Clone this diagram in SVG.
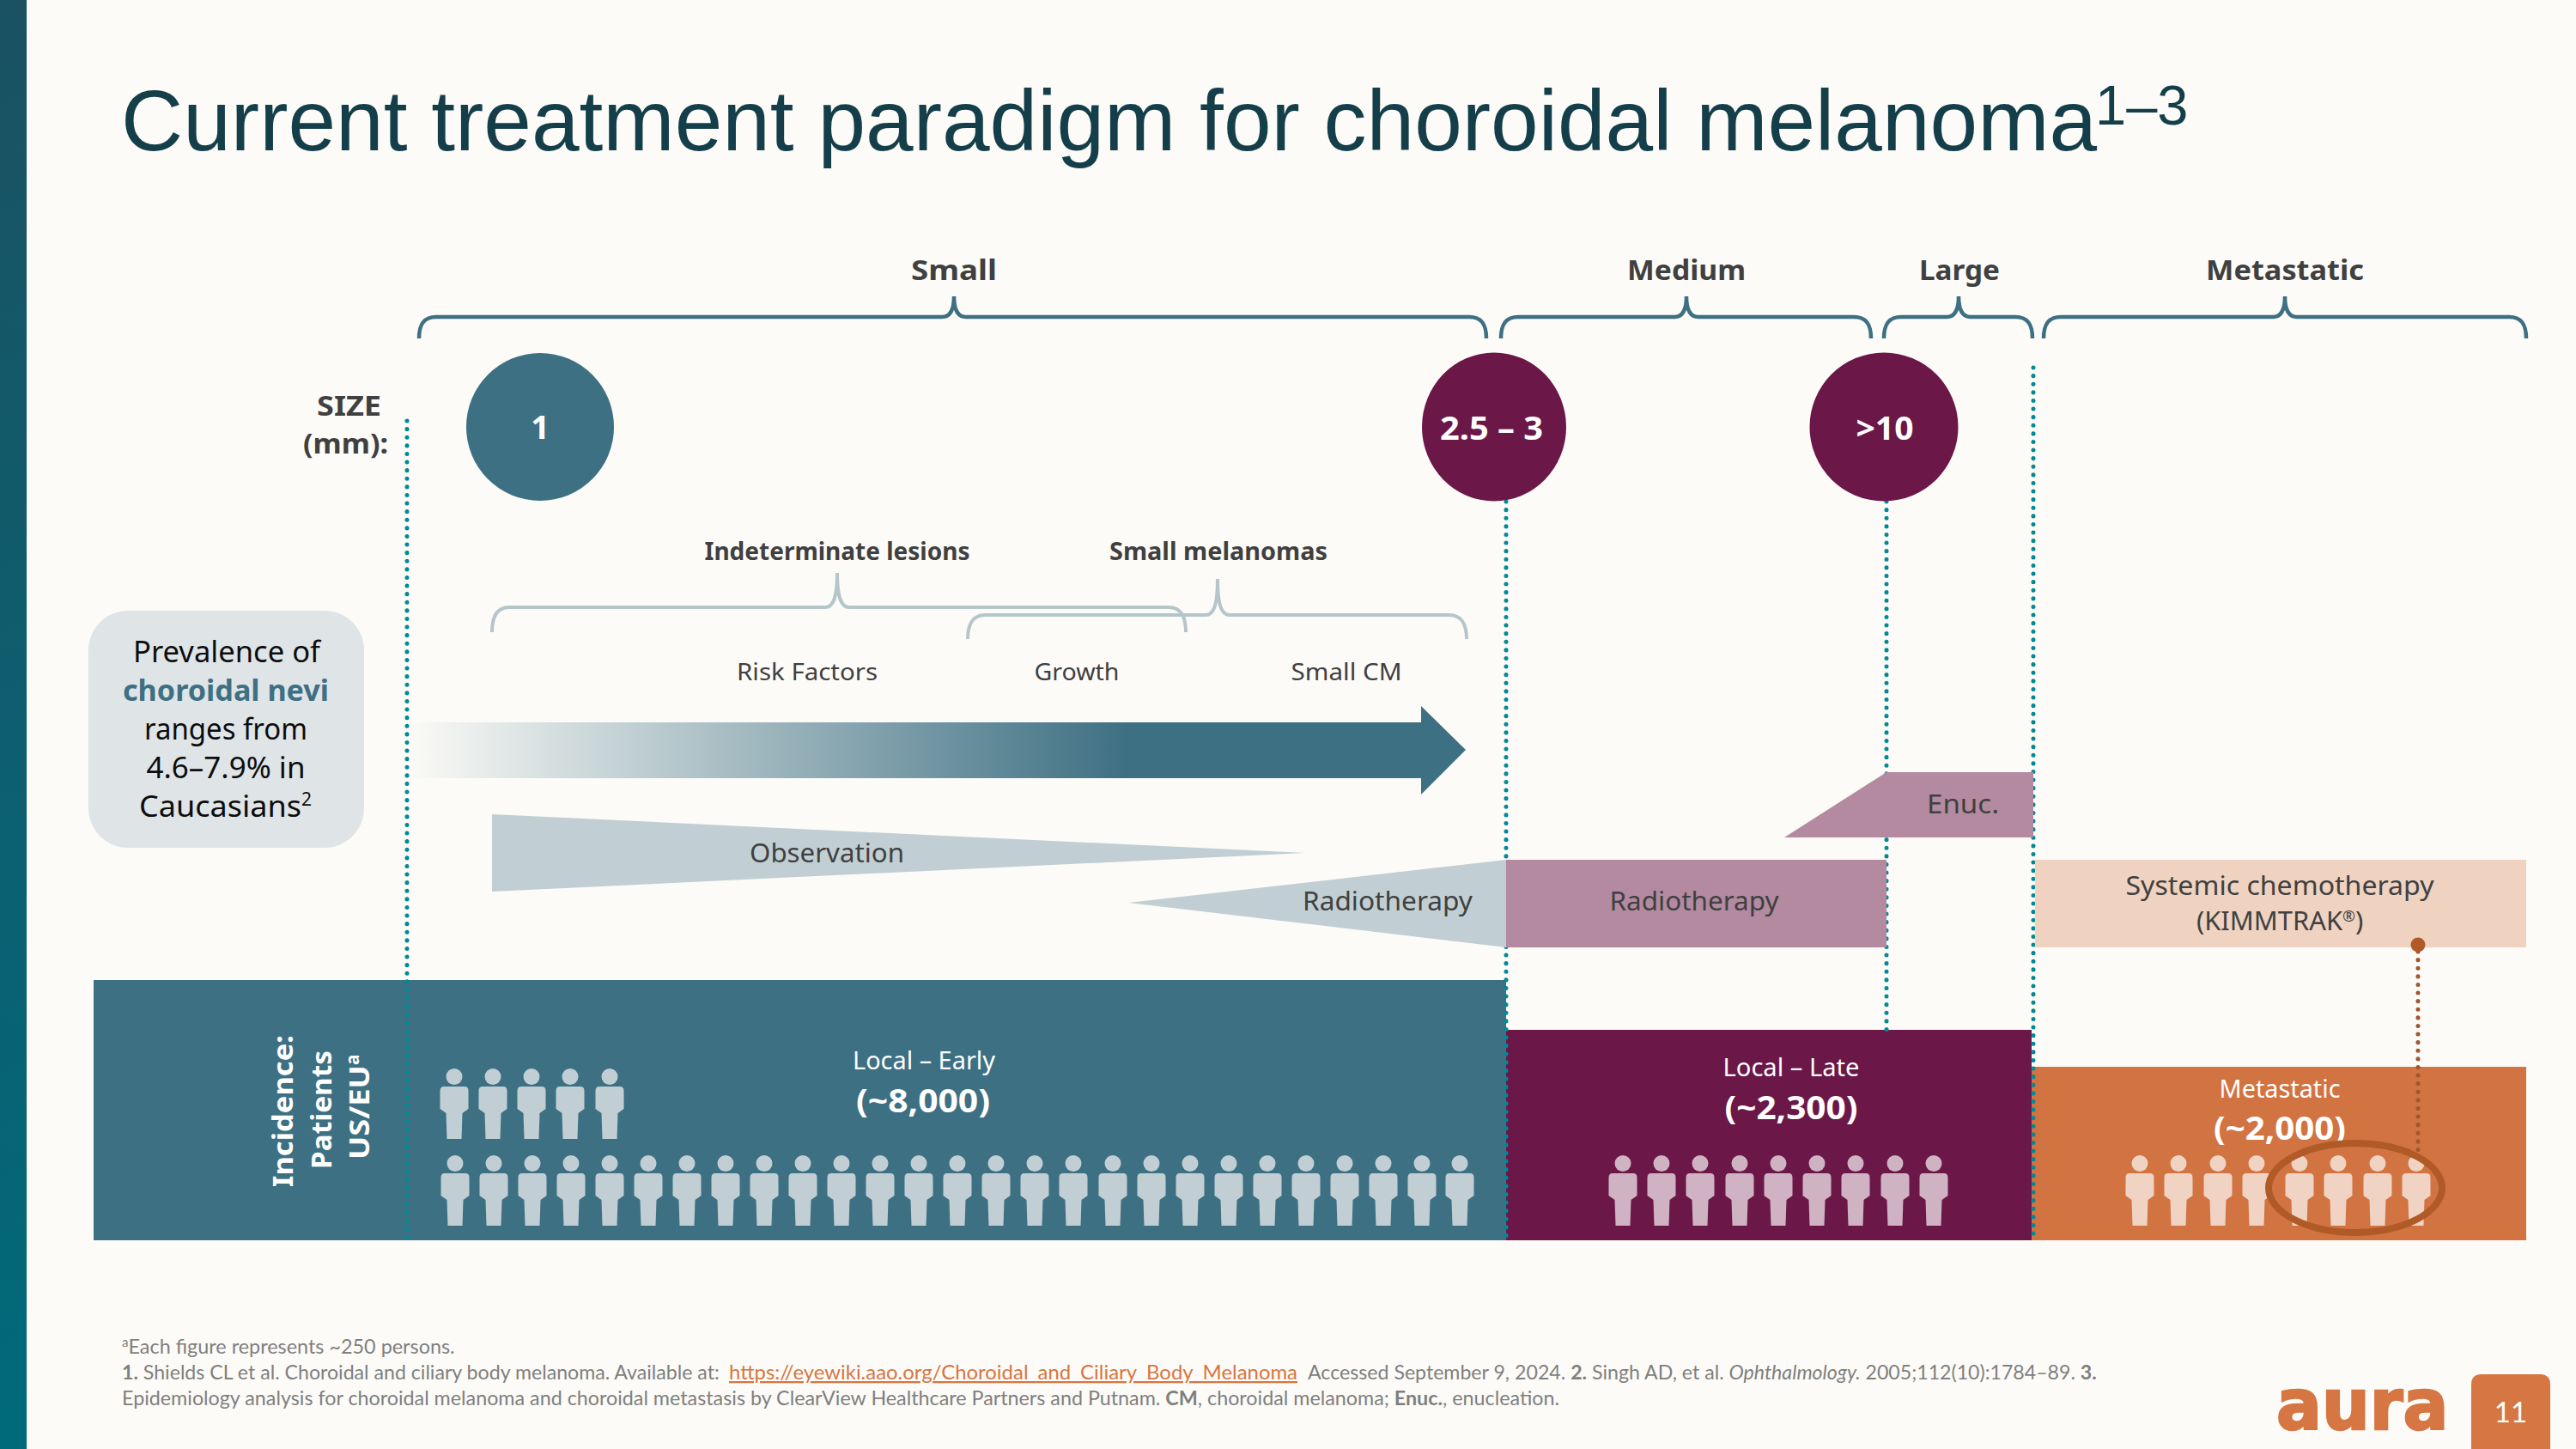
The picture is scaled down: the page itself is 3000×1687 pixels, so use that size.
<svg xmlns="http://www.w3.org/2000/svg" width="3000" height="1687" viewBox="0 0 3000 1687">
<style>
text{font-family:"Noto Sans","Open Sans","Liberation Sans",sans-serif;fill:#404040}
.b{font-weight:700}
.m{text-anchor:middle}
.w{fill:#fff}
.lab{font-size:31px}
.sm{font-size:28px}
.hd{font-size:33px;font-weight:700}
.big{font-size:38px;font-weight:700;fill:#fff}
.cnt{font-size:29px;fill:#fff}
.num{font-size:38px;font-weight:700;fill:#fff}
.fn{font-family:"Lato","Liberation Sans",sans-serif;font-size:23.400px;fill:#7f7f7f}
.pv{font-size:34.500px;fill:#0d0d0d}
.br1{fill:none;stroke:#3e7083;stroke-width:4.5}
.br2{fill:none;stroke:#b5c6cb;stroke-width:4}
.dot{fill:none;stroke:#008a96;stroke-width:5;stroke-linecap:round;stroke-dasharray:0.1 9.5}
.dot2{fill:none;stroke:#a0562e;stroke-width:5;stroke-linecap:round;stroke-dasharray:0.1 9.5}
.p1{fill:#c1cfd4}.p2{fill:#cfb3c3}.p3{fill:#f0d3c2}
</style>
<defs>
<linearGradient id="bar" x1="0" y1="0" x2="0" y2="1"><stop offset="0" stop-color="#1a5262"/><stop offset="1" stop-color="#006a7b"/></linearGradient>
<linearGradient id="arr" gradientUnits="userSpaceOnUse" x1="472" y1="0" x2="1707" y2="0"><stop offset="0" stop-color="#3e7083" stop-opacity="0"/><stop offset="0.68" stop-color="#3e7083"/><stop offset="1" stop-color="#3e7083"/></linearGradient>
<g id="pers"><ellipse cx="0" cy="9.5" rx="9.5" ry="9.5"/><path d="M-12 21H12Q16.500 21 16.500 26V47L9.500 52L8.500 82H-8.500L-9.500 52L-16.500 47V26Q-16.500 21-12 21Z"/></g>
</defs>
<rect width="3000" height="1687" fill="#fcfbf7"/>
<rect id="sidebar" x="0" y="0" width="31" height="1687" fill="url(#bar)"/>
<g id="title"><text x="141" y="175" style="font-family:'Liberation Sans',sans-serif;font-size:100px;fill:#143f4a">Current treatment paradigm for choroidal melanoma<tspan x="2440" y="145" font-size="65">1–3</tspan></text></g>

<g id="incidence-early"><rect x="109" y="1141" width="1645" height="303" fill="#3e7083"/>
<g class="p1">
<use href="#pers" x="529" y="1244"/><use href="#pers" x="574" y="1244"/><use href="#pers" x="619" y="1244"/><use href="#pers" x="664" y="1244"/><use href="#pers" x="710" y="1244"/>
<use href="#pers" x="530" y="1345"/><use href="#pers" x="575" y="1345"/><use href="#pers" x="620" y="1345"/><use href="#pers" x="665" y="1345"/><use href="#pers" x="710" y="1345"/><use href="#pers" x="755" y="1345"/><use href="#pers" x="800" y="1345"/><use href="#pers" x="845" y="1345"/><use href="#pers" x="890" y="1345"/><use href="#pers" x="935" y="1345"/><use href="#pers" x="980" y="1345"/><use href="#pers" x="1025" y="1345"/><use href="#pers" x="1070" y="1345"/><use href="#pers" x="1115" y="1345"/><use href="#pers" x="1160" y="1345"/><use href="#pers" x="1205" y="1345"/><use href="#pers" x="1250" y="1345"/><use href="#pers" x="1296" y="1345"/><use href="#pers" x="1341" y="1345"/><use href="#pers" x="1386" y="1345"/><use href="#pers" x="1431" y="1345"/><use href="#pers" x="1476" y="1345"/><use href="#pers" x="1521" y="1345"/><use href="#pers" x="1566" y="1345"/><use href="#pers" x="1611" y="1345"/><use href="#pers" x="1656" y="1345"/><use href="#pers" x="1700" y="1345"/>
</g>
<text class="cnt m" x="1076" y="1245" textLength="166" lengthAdjust="spacingAndGlyphs">Local – Early</text>
<text class="num m" x="1075" y="1295" textLength="156" lengthAdjust="spacingAndGlyphs">(~8,000)</text>
<text class="hd w" transform="translate(341 1382) rotate(-90)" textLength="177" lengthAdjust="spacingAndGlyphs">Incidence:</text>
<text class="hd w" transform="translate(386 1361) rotate(-90)" textLength="138" lengthAdjust="spacingAndGlyphs">Patients</text>
<text class="hd w" transform="translate(430 1350) rotate(-90)"><tspan textLength="110" lengthAdjust="spacingAndGlyphs">US/EU</tspan><tspan font-size="21" dy="-12">a</tspan></text>
</g>

<g id="incidence-late"><rect x="1754" y="1199" width="612" height="245" fill="#6b1848"/>
<g class="p2"><use href="#pers" x="1890" y="1345"/><use href="#pers" x="1935" y="1345"/><use href="#pers" x="1980" y="1345"/><use href="#pers" x="2026" y="1345"/><use href="#pers" x="2071" y="1345"/><use href="#pers" x="2116" y="1345"/><use href="#pers" x="2161" y="1345"/><use href="#pers" x="2207" y="1345"/><use href="#pers" x="2252" y="1345"/></g>
<text class="cnt m" x="2086" y="1253" textLength="159" lengthAdjust="spacingAndGlyphs">Local – Late</text>
<text class="num m" x="2086" y="1303" textLength="155" lengthAdjust="spacingAndGlyphs">(~2,300)</text>
</g>

<g id="incidence-metastatic"><rect x="2366" y="1242" width="576" height="202" fill="#d27342"/>
<g class="p3"><use href="#pers" x="2492" y="1345"/><use href="#pers" x="2537" y="1345"/><use href="#pers" x="2583" y="1345"/><use href="#pers" x="2628" y="1345"/><use href="#pers" x="2678" y="1345"/><use href="#pers" x="2723" y="1345"/><use href="#pers" x="2769" y="1345"/><use href="#pers" x="2814" y="1345"/></g>
<text class="cnt m" x="2655" y="1278" textLength="141" lengthAdjust="spacingAndGlyphs">Metastatic</text>
<text class="num m" x="2655" y="1327" textLength="154" lengthAdjust="spacingAndGlyphs">(~2,000)</text>
</g>

<g id="connectors">
<path class="dot" d="M474 490V1444"/>
<path class="dot" d="M1754 584V1444"/>
<path class="dot" d="M2197 584V1199"/>
<path class="dot" d="M2368 428V1444"/>
<path class="dot2" d="M2816 1108V1342"/>
<ellipse cx="2743" cy="1383" rx="101" ry="52" fill="none" stroke="#b05a28" stroke-width="8"/>
</g>

<g id="brace-small"><path class="br1" d="M488 394C488 377 494 369 508 369H1097C1106 369 1111 361 1111 345C1111 361 1116 369 1125 369H1711C1725 369 1731 377 1731 394"/><text class="hd m" x="1111" y="326" textLength="100" lengthAdjust="spacingAndGlyphs">Small</text></g>
<g id="brace-medium"><path class="br1" d="M1748 394C1748 377 1754 369 1768 369H1950C1959 369 1964 361 1964 345C1964 361 1969 369 1978 369H2159C2173 369 2179 377 2179 394"/><text class="hd m" x="1964" y="326" textLength="138" lengthAdjust="spacingAndGlyphs">Medium</text></g>
<g id="brace-large"><path class="br1" d="M2194 394C2194 377 2200 369 2214 369H2267C2276 369 2281 361 2281 345C2281 361 2286 369 2295 369H2347C2361 369 2367 377 2367 394"/><text class="hd m" x="2282" y="326" textLength="94" lengthAdjust="spacingAndGlyphs">Large</text></g>
<g id="brace-metastatic"><path class="br1" d="M2380 394C2380 377 2386 369 2400 369H2647C2656 369 2661 361 2661 345C2661 361 2666 369 2675 369H2922C2936 369 2942 377 2942 394"/><text class="hd m" x="2661" y="326" textLength="184" lengthAdjust="spacingAndGlyphs">Metastatic</text></g>

<g id="size-label"><text class="hd" text-anchor="end" x="444" y="484" textLength="75" lengthAdjust="spacingAndGlyphs">SIZE</text><text class="hd" text-anchor="end" x="452" y="528" textLength="99" lengthAdjust="spacingAndGlyphs">(mm):</text></g>
<g id="size-1"><circle cx="629" cy="497" r="86" fill="#3e7083"/><text class="big m" x="629" y="511">1</text></g>
<g id="size-2-5"><ellipse cx="1740" cy="497" rx="84" ry="86.500" fill="#6b1848"/><text class="big m" x="1737" y="512" textLength="120" lengthAdjust="spacingAndGlyphs">2.5 – 3</text></g>
<g id="size-10"><circle cx="2194" cy="497" r="86.500" fill="#6b1848"/><text class="big m" x="2195" y="512" textLength="67" lengthAdjust="spacingAndGlyphs">&gt;10</text></g>

<g id="indeterminate"><path class="br2" d="M573 736C573 718 579 707 593 707H961C970 707 975 697 975 667C975 697 980 707 989 707H1361C1375 707 1381 718 1381 736"/><text class="sm b m" x="975" y="652" textLength="309" lengthAdjust="spacingAndGlyphs">Indeterminate lesions</text></g>
<g id="small-melanomas"><path class="br2" d="M1127 744C1127 727 1133 716 1147 716H1404C1413 716 1418 706 1418 674C1418 706 1423 716 1432 716H1688C1702 716 1708 727 1708 744"/><text class="sm b m" x="1419" y="652" textLength="254" lengthAdjust="spacingAndGlyphs">Small melanomas</text></g>
<g id="stage-labels"><text class="sm m" x="940" y="792" textLength="164" lengthAdjust="spacingAndGlyphs">Risk Factors</text><text class="sm m" x="1254" y="792" textLength="99" lengthAdjust="spacingAndGlyphs">Growth</text><text class="sm m" x="1568" y="792" textLength="129" lengthAdjust="spacingAndGlyphs">Small CM</text></g>

<path id="progress-arrow" d="M472 841H1655V822L1707 873L1655 925V906H472Z" fill="url(#arr)"/>

<g id="observation"><path d="M573 948V1038L1520 993Z" fill="#c1cfd4"/><text class="lab m" x="963" y="1004" textLength="180" lengthAdjust="spacingAndGlyphs">Observation</text></g>
<g id="radiotherapy-small"><path d="M1314 1051L1754 1001V1103Z" fill="#c1cfd4"/><text class="lab m" x="1616" y="1060" textLength="198" lengthAdjust="spacingAndGlyphs">Radiotherapy</text></g>
<g id="radiotherapy-medium"><rect x="1754" y="1001" width="443" height="102" fill="#b38aa0"/><text class="lab m" x="1973" y="1060" textLength="197" lengthAdjust="spacingAndGlyphs">Radiotherapy</text></g>
<g id="enucleation"><path d="M2078 975L2197 899H2368V975Z" fill="#b38aa0"/><text class="lab m" x="2286" y="947" textLength="84" lengthAdjust="spacingAndGlyphs">Enuc.</text></g>
<g id="systemic"><rect x="2370" y="1001" width="572" height="102" fill="#efd2c0"/><text class="lab m" x="2655" y="1042" textLength="359" lengthAdjust="spacingAndGlyphs">Systemic chemotherapy</text><text class="lab" x="2558" y="1083"><tspan textLength="170" lengthAdjust="spacingAndGlyphs">(KIMMTRAK</tspan><tspan font-size="18" dy="-10">®</tspan><tspan dy="10">)</tspan></text></g>
<circle id="link-dot" cx="2816" cy="1100" r="8.500" fill="#b05a28"/>

<g id="prevalence"><rect x="103" y="711" width="321" height="276" rx="46" fill="#dfe4e7"/>
<text class="pv m" x="264" y="771" textLength="218" lengthAdjust="spacingAndGlyphs">Prevalence of</text><text class="pv m b" x="263" y="816" style="fill:#3e7083" textLength="240" lengthAdjust="spacingAndGlyphs">choroidal nevi</text><text class="pv m" x="263" y="861" textLength="190" lengthAdjust="spacingAndGlyphs">ranges from</text><text class="pv m" x="263" y="906" textLength="185" lengthAdjust="spacingAndGlyphs">4.6–7.9% in</text><text class="pv" x="162" y="951"><tspan textLength="189" lengthAdjust="spacingAndGlyphs">Caucasians</tspan><tspan font-size="21" dy="-13">2</tspan></text></g>

<g id="footnotes">
<text class="fn" x="142" y="1576"><tspan font-size="15" dy="-8">a</tspan><tspan dy="8">Each figure represents ~250 persons.</tspan></text>
<text class="fn" x="142" y="1606" style="font-size:23.150px"><tspan class="b">1.</tspan> Shields CL et al. Choroidal and ciliary body melanoma. Available at: <tspan x="849" textLength="662" lengthAdjust="spacingAndGlyphs" style="fill:#d67643;text-decoration:underline">https://eyewiki.aao.org/Choroidal_and_Ciliary_Body_Melanoma</tspan><tspan x="1523">Accessed September 9, 2024. </tspan><tspan class="b">2.</tspan> Singh AD, et al. <tspan font-style="italic">Ophthalmology.</tspan> 2005;112(10):1784–89. <tspan class="b">3.</tspan></text>
<text class="fn" x="142" y="1636" style="font-size:23.300px">Epidemiology analysis for choroidal melanoma and choroidal metastasis by ClearView Healthcare Partners and Putnam. <tspan class="b">CM</tspan>, choroidal melanoma; <tspan class="b">Enuc.</tspan>, enucleation.</text>
</g>

<g id="logo"><text transform="translate(2651 1664) scale(0.957 1)" style="font-family:'DejaVu Sans',sans-serif;font-weight:700;font-size:82px;fill:#d67643;stroke:#d67643;stroke-width:2.5">aura</text></g>
<g id="page-number"><path d="M2878 1687V1612Q2878 1600 2890 1600H2958Q2970 1600 2970 1612V1687Z" fill="#d67643"/><text class="m w" x="2924" y="1656" style="font-family:Lato,sans-serif;font-size:33px;fill:#fff">11</text></g>
</svg>
